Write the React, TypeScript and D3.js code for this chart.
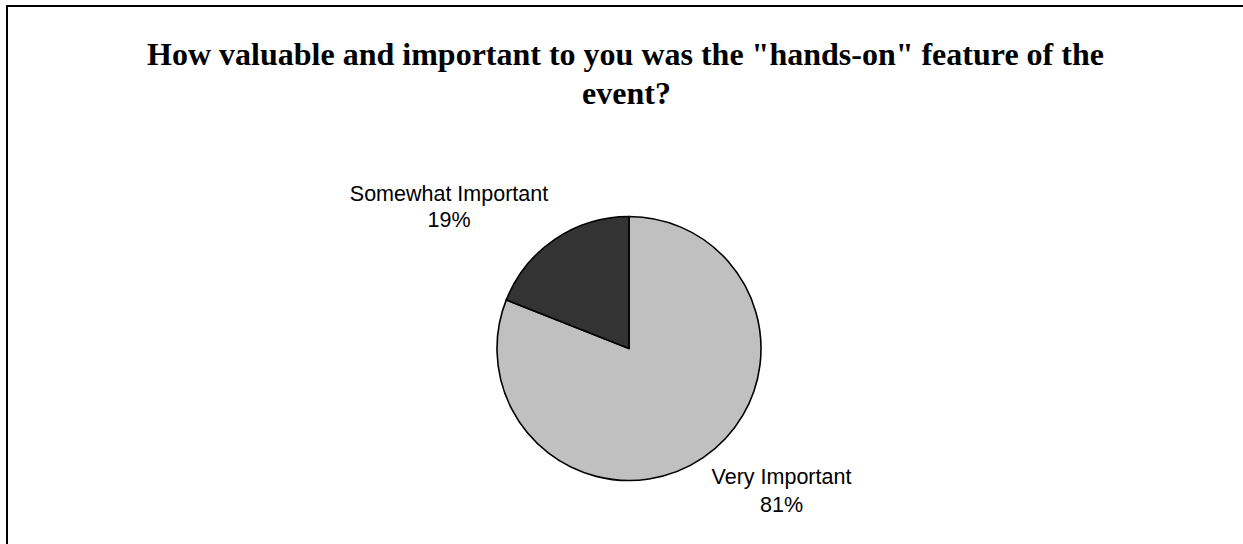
import React from "react";
import * as d3 from "d3";

const categories = ["Very Important", "Somewhat Important"];
const values = [81, 19];
const percentLabels = ["81%", "19%"];
const colors = ["#c0c0c0", "#333333"];
const titleLines = ['How valuable and important to you was the "hands-on" feature of the', "event?"];

const W = 1243;
const H = 544;
const cx = 629;
const cy = 348.5;
const R = 132;

// label anchor positions (centre x, first-line baseline y), in order of categories
const labelPos = [
  { x: 781.5, y: 483.5, gap: 28 },
  { x: 449, y: 201, gap: 26 },
];

export default function App() {
  const pie = d3
    .pie<number>()
    .sort(null)
    .value((d) => d)
    .startAngle(0)
    .endAngle(2 * Math.PI);
  const arcs = pie(values);
  const arc = d3.arc<d3.PieArcDatum<number>>().innerRadius(0).outerRadius(R);

  return (
    <svg
      width={W}
      height={H}
      style={{ position: "absolute", left: 0, top: 0, display: "block", background: "#fff" }}
    >
      <rect x={0} y={0} width={W} height={H} fill="#fff" />
      <rect x={7} y={6} width={W + 20} height={H + 20} fill="none" stroke="#000" strokeWidth={2} />
      <g fontFamily="'Liberation Serif', 'Times New Roman', serif" fontWeight="bold" fontSize={32} textAnchor="middle" fill="#000">
        <text x={625.5} y={64.5}>{titleLines[0]}</text>
        <text x={626.5} y={104}>{titleLines[1]}</text>
      </g>
      <g transform={`translate(${cx},${cy})`}>
        {arcs.map((a, i) => (
          <path key={categories[i]} d={arc(a) || ""} fill={colors[i]} stroke="#000" strokeWidth={1.6} strokeLinejoin="round" />
        ))}
      </g>
      <g fontFamily="'Liberation Sans', Arial, sans-serif" fontSize={21.5} textAnchor="middle" fill="#000">
        {categories.map((c, i) => (
          <g key={c}>
            <text x={labelPos[i].x} y={labelPos[i].y}>{c}</text>
            <text x={labelPos[i].x} y={labelPos[i].y + labelPos[i].gap}>{percentLabels[i]}</text>
          </g>
        ))}
      </g>
    </svg>
  );
}
